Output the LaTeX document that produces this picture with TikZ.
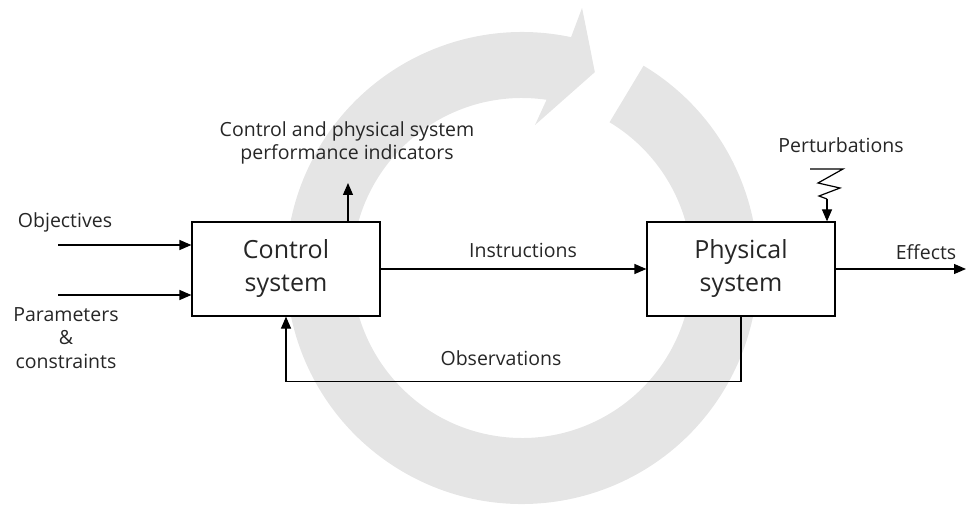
\documentclass[tikz,border=0pt]{standalone}
\usepackage{fontspec}
\setmainfont{Open Sans}
\usetikzlibrary{arrows.meta}

\begin{document}
\begin{tikzpicture}[x=1pt, y=1pt, line width=1.2pt, >={Triangle[length=12pt,width=10pt]},
    box/.style={shape=rectangle, draw, fill=white, minimum width=188, minimum height=94,
      align=center, font=\fontsize{25}{33}\selectfont, text=black!85},
    lbl/.style={align=center, font=\fontsize{19.5}{23.5}\selectfont, text=black!85}]
      \useasboundingbox (0,0) rectangle (966,504);

      % grey loop behind everything
      \begin{scope}[shift={(522,236)}]
        \fill[black!10] (59:236) arc[start angle=59, end angle=-282, radius=236]
          -- (-283:267) -- (-290.4:209) -- (-275.2:143.6) -- (-278.3:170)
          arc[start angle=-278.3, end angle=59, radius=170] -- cycle;
      \end{scope}

      \node[box] (ctrl) at (286,235) {Control\\system};
      \node[box] (phys) at (741,235) {Physical\\system};

      \node[lbl] (objlbl) at (65,282) {Objectives};
      \node[lbl] (parlbl) at (66,166) {Parameters\\\&\\constraints};
      \node[lbl] (indlbl) at (347,361) {Control and physical system\\performance indicators};
      \node[lbl] (inslbl) at (523,254) {Instructions};
      \node[lbl] (efflbl) at (926,252) {Effects};
      \node[lbl] (perlbl) at (841,359) {Perturbations};
      \node[lbl] (obslbl) at (501,146) {Observations};

      \coordinate (obj) at (58,259);
      \coordinate (par) at (58,209);
      \coordinate (indtip) at (348,321);
      \coordinate (eff) at (966,235);

      \path [->]  (obj) edge (obj -| ctrl.west);
      \path [->]  (par) edge (par -| ctrl.west);
      \path [->]  (indtip |- ctrl.north) edge (indtip);
      \path [->]  (ctrl.east) edge (phys.west);
      \path [->]  (phys.east) edge (eff);
      \draw [->]  (phys.south) -- ++(0,-65) -| (ctrl.south);

      % perturbation zigzag
      \draw (810,335) -- (843,335) -- (818,321) -- (840,316) -- (819,308) -- (827,305) coordinate (zz);
      \path [->]  (zz) edge (zz |- phys.north);
    \end{tikzpicture}
\end{document}
